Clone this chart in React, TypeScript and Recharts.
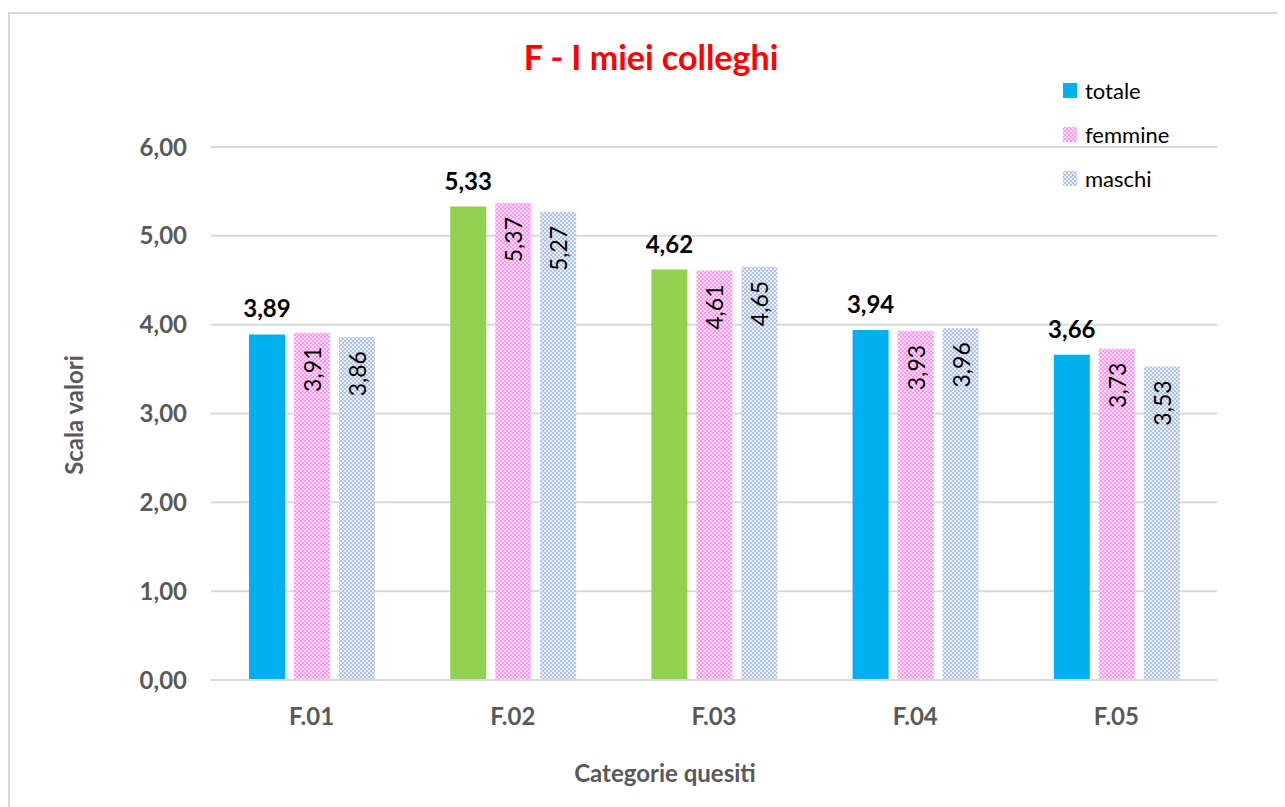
import React from 'react';
import { BarChart, Bar, XAxis, YAxis, CartesianGrid, Cell, LabelList, Label } from 'recharts';

// Survey section F: average score per question, overall and split by gender
const categories = ['F.01', 'F.02', 'F.03', 'F.04', 'F.05'];
const totale = [3.89, 5.33, 4.62, 3.94, 3.66];
const femmine = [3.91, 5.37, 4.61, 3.93, 3.73];
const maschi = [3.86, 5.27, 4.65, 3.96, 3.53];
const totaleColors = ['#00B0F0', '#92D050', '#92D050', '#00B0F0', '#00B0F0'];
const yTicks = [0, 1, 2, 3, 4, 5, 6];

const data = categories.map((name, i) => ({
  name,
  totale: totale[i],
  femmine: femmine[i],
  maschi: maschi[i],
}));

const FONT = 'Lato, "Open Sans", sans-serif';
const fmt = (v: number) => v.toFixed(2).replace('.', ',');

const TopLabel = (props: any) => {
  const { x, y, width, value } = props;
  const cx = x + width / 2;
  return (
    <text x={cx} y={y - 17} textAnchor="middle" fontFamily={FONT} fontWeight="bold" fontSize={24} fill="#000">
      {fmt(value)}
    </text>
  );
};

const RotLabel = (props: any) => {
  const { x, y, width, value } = props;
  const cx = x + width / 2;
  const ty = y + 14;
  return (
    <text
      x={cx}
      y={ty}
      transform={`rotate(-90 ${cx} ${ty})`}
      textAnchor="end"
      dominantBaseline="central"
      fontFamily={FONT}
      fontSize={23}
      fill="#000"
    >
      {fmt(value)}
    </text>
  );
};

const legendItems = [
  { label: 'totale', fill: '#00B0F0' },
  { label: 'femmine', fill: 'url(#patFem)' },
  { label: 'maschi', fill: 'url(#patMas)' },
];

export default function App() {
  return (
    <div style={{ position: 'relative', width: 1277, height: 799, overflow: 'hidden', background: '#fff' }}>
      <div
        style={{
          position: 'absolute',
          left: 0,
          top: 4,
          width: 1300,
          height: 820,
          borderTop: '2px solid #D9D9D9',
          borderLeft: '2px solid #D9D9D9',
          boxSizing: 'border-box',
        }}
      />
      <BarChart
        width={1277}
        height={799}
        data={data}
        margin={{ top: 139, right: 68, bottom: 0, left: 0 }}
        barSize={36}
        barGap={9}
        style={{ position: 'absolute', left: 0, top: 0 }}
      >
        <defs>
          <pattern id="patFem" width="4" height="4" patternUnits="userSpaceOnUse">
            <rect width="4" height="4" fill="#FFD9F6" />
            <rect width="2" height="2" fill="#FF99EE" />
            <rect x="2" y="2" width="2" height="2" fill="#FF99EE" />
          </pattern>
          <pattern id="patMas" width="4" height="4" patternUnits="userSpaceOnUse">
            <rect width="4" height="4" fill="#E8EEF8" />
            <rect width="2" height="2" fill="#B0C3E6" />
            <rect x="2" y="2" width="2" height="2" fill="#B0C3E6" />
          </pattern>
        </defs>
        <CartesianGrid vertical={false} stroke="#D9D9D9" strokeWidth={2} />
        <XAxis
          dataKey="name"
          height={127}
          axisLine={{ stroke: '#D9D9D9', strokeWidth: 2 }}
          tickLine={false}
          tickMargin={22}
          tick={{ fill: '#595959', fontSize: 24, fontWeight: 'bold', fontFamily: FONT }}
        >
          <Label
            content={() => (
              <text x={657} y={764} textAnchor="middle" dominantBaseline="central" fontFamily={FONT} fontWeight="bold" fontSize={24} fill="#595959">
                Categorie quesiti
              </text>
            )}
          />
        </XAxis>
        <YAxis
          width={203}
          domain={[0, 6]}
          ticks={yTicks}
          axisLine={false}
          tickLine={false}
          tickMargin={18}
          tickFormatter={fmt}
          tick={{ fill: '#595959', fontSize: 24, fontWeight: 'bold', fontFamily: FONT }}
        >
          <Label
            content={() => (
              <text
                x={65}
                y={407}
                transform="rotate(-90 65 407)"
                textAnchor="middle"
                dominantBaseline="central"
                fontFamily={FONT}
                fontWeight="bold"
                fontSize={24}
                fill="#595959"
              >
                Scala valori
              </text>
            )}
          />
        </YAxis>
        <Bar dataKey="totale" isAnimationActive={false}>
          {data.map((d, i) => (
            <Cell key={d.name} fill={totaleColors[i]} />
          ))}
          <LabelList dataKey="totale" content={TopLabel} />
        </Bar>
        <Bar dataKey="femmine" fill="url(#patFem)" isAnimationActive={false}>
          <LabelList dataKey="femmine" content={RotLabel} />
        </Bar>
        <Bar dataKey="maschi" fill="url(#patMas)" isAnimationActive={false}>
          <LabelList dataKey="maschi" content={RotLabel} />
        </Bar>
      </BarChart>
      <div
        style={{
          position: 'absolute',
          left: 0,
          top: 29,
          width: 1286,
          textAlign: 'center',
          color: '#FF0000',
          fontFamily: FONT,
          fontWeight: 'bold',
          fontSize: 34,
          lineHeight: '40px',
        }}
      >
        F - I miei colleghi
      </div>
      <svg style={{ position: 'absolute', left: 1040, top: 58 }} width={200} height={140}>
        <defs>
          <pattern id="patFemL" width="4" height="4" patternUnits="userSpaceOnUse">
            <rect width="4" height="4" fill="#FFD9F6" />
            <rect width="2" height="2" fill="#FF99EE" />
            <rect x="2" y="2" width="2" height="2" fill="#FF99EE" />
          </pattern>
          <pattern id="patMasL" width="4" height="4" patternUnits="userSpaceOnUse">
            <rect width="4" height="4" fill="#E8EEF8" />
            <rect width="2" height="2" fill="#B0C3E6" />
            <rect x="2" y="2" width="2" height="2" fill="#B0C3E6" />
          </pattern>
        </defs>
        {legendItems.map((it, i) => (
          <g key={it.label}>
            <rect
              x={15}
              y={17 + i * 44}
              width={14}
              height={15}
              fill={it.fill.replace('patFem', 'patFemL').replace('patMas', 'patMasL')}
            />
            <text x={37} y={24 + i * 44} dominantBaseline="central" fontFamily={FONT} fontSize={22} fill="#000">
              {it.label}
            </text>
          </g>
        ))}
      </svg>
    </div>
  );
}
